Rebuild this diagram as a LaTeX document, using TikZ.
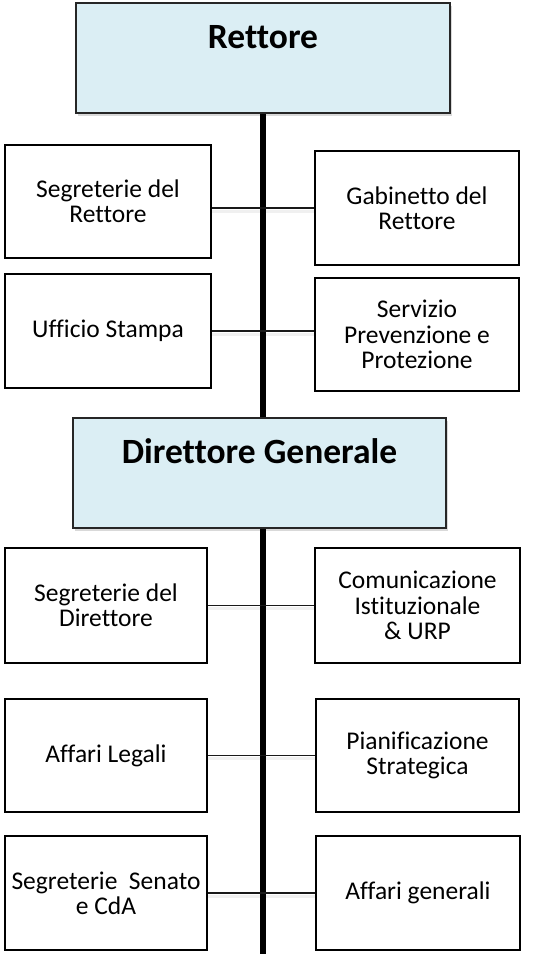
\documentclass[tikz,border=0pt]{standalone}
\usepackage{fontspec}
\setmainfont{Carlito}[Ligatures=NoCommon]
\usetikzlibrary{shadows}
\definecolor{boxblue}{RGB}{219,238,244}
\begin{document}
\begin{tikzpicture}[x=1pt,y=-1pt,
  headbox/.style={draw=black!85, line width=1.5pt, fill=boxblue, inner sep=0pt,
    drop shadow={shadow xshift=2pt, shadow yshift=-3pt, opacity=0.15, fill=black}},
  headtext/.style={font=\fontsize{35.5}{38}\selectfont\bfseries, inner sep=0pt, anchor=base},
  unitbox/.style={draw=black, line width=1.5pt, fill=white, inner sep=0pt, align=center,
    font=\fontsize{25.5}{25.3}\selectfont},
  spine/.style={line width=5.5pt, black},
  link/.style={line width=1.3pt, black!90},
  linkshadow/.style={line width=3pt, black, opacity=0.06}
]
\useasboundingbox (0,0) rectangle (539,954);
\coordinate (bottom) at (263,954);
\coordinate (top) at (263,113);
\draw[spine] (top) -- (bottom);

% head boxes
\node[headbox, minimum width=374, minimum height=110] (ret) at (263,58) {};
\node[headtext] (rettxt) at (263,48) {Rettore};
\node[headbox, minimum width=373, minimum height=110] (dg) at (259.5,473) {};
\node[headtext] (dgtxt) at (259.5,463) {Direttore Generale};

% unit boxes
\node[unitbox, minimum width=206, minimum height=113] (sr) at (108,201.5) {Segreterie del\\Rettore};
\node[unitbox, minimum width=204, minimum height=114] (gr) at (417,208) {Gabinetto del\\Rettore};
\node[unitbox, minimum width=206, minimum height=114] (us) at (108,331) {Ufficio Stampa};
\node[unitbox, minimum width=204, minimum height=113] (sp) at (417,334.5) {Servizio\\Prevenzione e\\Protezione};
\node[unitbox, minimum width=202, minimum height=115] (sd) at (106,605.5) {Segreterie del\\Direttore};
\node[unitbox, minimum width=205, minimum height=115] (ci) at (417.5,605.5) {Comunicazione\\Istituzionale\\\& URP};
\node[unitbox, minimum width=202, minimum height=113] (al) at (106,755.5) {Affari Legali};
\node[unitbox, minimum width=203, minimum height=113] (ps) at (417.5,755.5) {Pianificazione\\Strategica};
\node[unitbox, minimum width=202, minimum height=114] (ss) at (106,893) {Segreterie~~Senato\\e CdA};
\node[unitbox, minimum width=204, minimum height=114] (ag) at (418,893) {Affari generali};

% connectors
\foreach \a/\b in {sr/gr}{
  \draw[linkshadow] ([yshift=-3pt]\a.east |- \b.west) -- ([yshift=-3pt]\b.west);
  \draw[link] (\a.east |- \b.west) -- (\b.west);
}
\foreach \a/\b in {us/sp, sd/ci, al/ps, ss/ag}{
  \draw[linkshadow] ([yshift=-3pt]\a.east) -- ([yshift=-3pt]\a.east -| \b.west);
  \draw[link] (\a.east) -- (\a.east -| \b.west);
}
\end{tikzpicture}
\end{document}
